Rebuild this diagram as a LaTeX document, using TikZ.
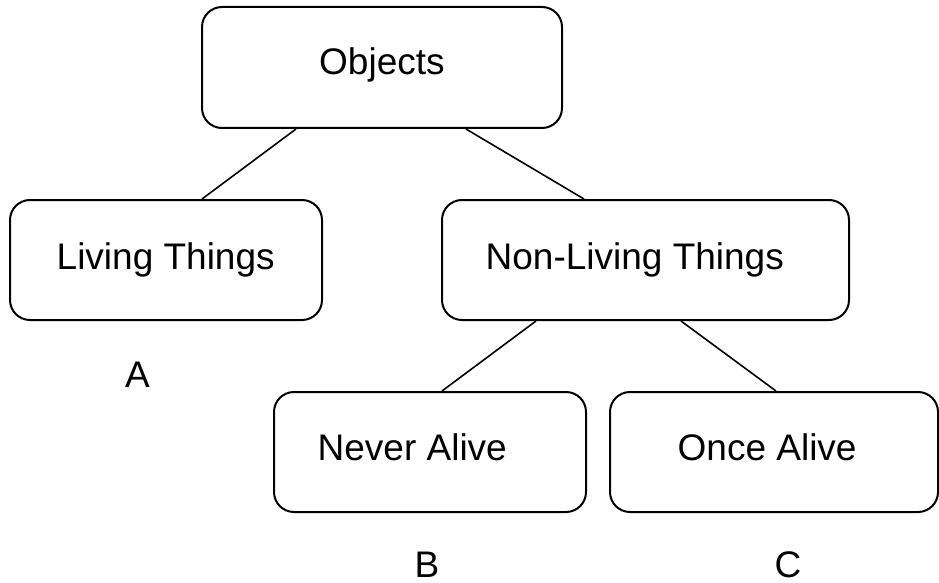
\documentclass[tikz,border=0pt]{standalone}
\usepackage{fontspec}
\setmainfont{Liberation Sans}
\usetikzlibrary{calc}
\tikzset{
  box/.style={draw=black, line width=2pt, rounded corners=20pt, rectangle, fill=white, inner sep=0pt, anchor=center},
  txt/.style={anchor=base west, inner sep=0pt, font=\fontsize{37}{40}\selectfont},
  link/.style={draw=black, line width=1.6pt}
}
\begin{document}
\begin{tikzpicture}[x=1pt,y=-1pt]
\useasboundingbox (0,0) rectangle (939,583);
% boxes
\node[box, minimum width=360pt, minimum height=121pt] (obj) at (382,67.5) {};
\node[box, minimum width=312pt, minimum height=120pt] (liv) at (166,260) {};
\node[box, minimum width=407pt, minimum height=120pt] (nl) at (645.5,260) {};
\node[box, minimum width=312pt, minimum height=120pt] (nev) at (430,452) {};
\node[box, minimum width=328pt, minimum height=120pt] (once) at (774,452) {};
% texts
\node[txt] (tobj) at (319,75) {Objects};
\node[txt] (tliv) at (56.5,269) {Living Things};
\node[txt] (tnl) at (485.5,269) {Non-Living Things};
\node[txt] (tnev) at (317.5,460) {Never Alive};
\node[txt] (tonce) at (677.5,460) {Once Alive};
\node[txt] (la) at (125,387) {A};
\node[txt] (lb) at (414.5,577) {B};
\node[txt] (lc) at (774.5,577) {C};
% connectors
\draw[link] ($(obj.south west)+(95,0)$) -- ($(liv.north west)+(193,0)$);
\draw[link] ($(obj.south west)+(265,0)$) -- ($(nl.north west)+(143,0)$);
\draw[link] ($(nl.south west)+(95,0)$) -- ($(nev.north west)+(169,0)$);
\draw[link] ($(nl.south west)+(240,0)$) -- ($(once.north west)+(167,0)$);
\end{tikzpicture}
\end{document}
